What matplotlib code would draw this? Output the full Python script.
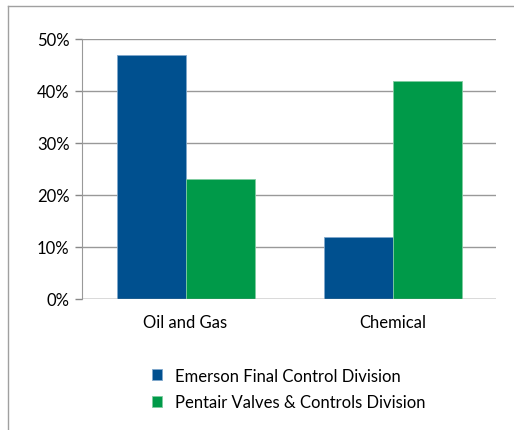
import matplotlib.pyplot as plt
import numpy as np
from matplotlib.lines import Line2D

categories = ['Oil and Gas', 'Chemical']
series_names = ['Emerson Final Control Division', 'Pentair Valves & Controls Division']
emerson = [47, 12]
pentair = [23, 42]
yticks = [0, 10, 20, 30, 40, 50]

plt.rcParams['font.family'] = ['Lato', 'DejaVu Sans']

W, H = 514, 431
fig = plt.figure(figsize=(W / 100, H / 100), dpi=100)
ax = fig.add_axes([82 / W, 1 - 300 / H, (496 - 82) / W, (300 - 40) / H])

x = np.arange(len(categories))
bw = 1 / 3
ax.bar(x - bw / 2, emerson, bw, color='#00508F', edgecolor='#7FA8CC', linewidth=0.6,
       label=series_names[0], zorder=3)
ax.bar(x + bw / 2, pentair, bw, color='#009A49', edgecolor='#7FCCA0', linewidth=0.6,
       label=series_names[1], zorder=3)

ax.set_xlim(-0.5, 1.5)
ax.set_ylim(0, 50)
ax.set_yticks(yticks)
ax.set_yticklabels([f'{v}%' for v in yticks], fontsize=12)
ax.set_xticks(x)
ax.set_xticklabels(categories, fontsize=12)
ax.tick_params(axis='x', length=0, pad=11)
ax.tick_params(axis='y', length=5, color='#888888', width=1, pad=4)
ax.grid(axis='y', color='#999999', linewidth=1, zorder=0)
for s in ['top', 'right', 'bottom']:
    ax.spines[s].set_visible(False)
ax.spines['left'].set_color('#999999')
ax.axhline(0, color='#999999', linewidth=1, zorder=4)

ax.legend(loc='center left', bbox_to_anchor=(137 / W, 1 - 390 / H),
          bbox_transform=fig.transFigure, frameon=False, fontsize=12,
          handlelength=0.6, handleheight=0.6, handletextpad=0.8, labelspacing=0.65)

# outer frame
fig.add_artist(Line2D([8 / W, 8 / W], [0, 1 - 7 / H], color='#A0A0A0', linewidth=1,
                      transform=fig.transFigure))
fig.add_artist(Line2D([8 / W, 1], [1 - 7 / H, 1 - 7 / H], color='#A0A0A0', linewidth=1,
                      transform=fig.transFigure))

fig.savefig('out.png', dpi=100)
